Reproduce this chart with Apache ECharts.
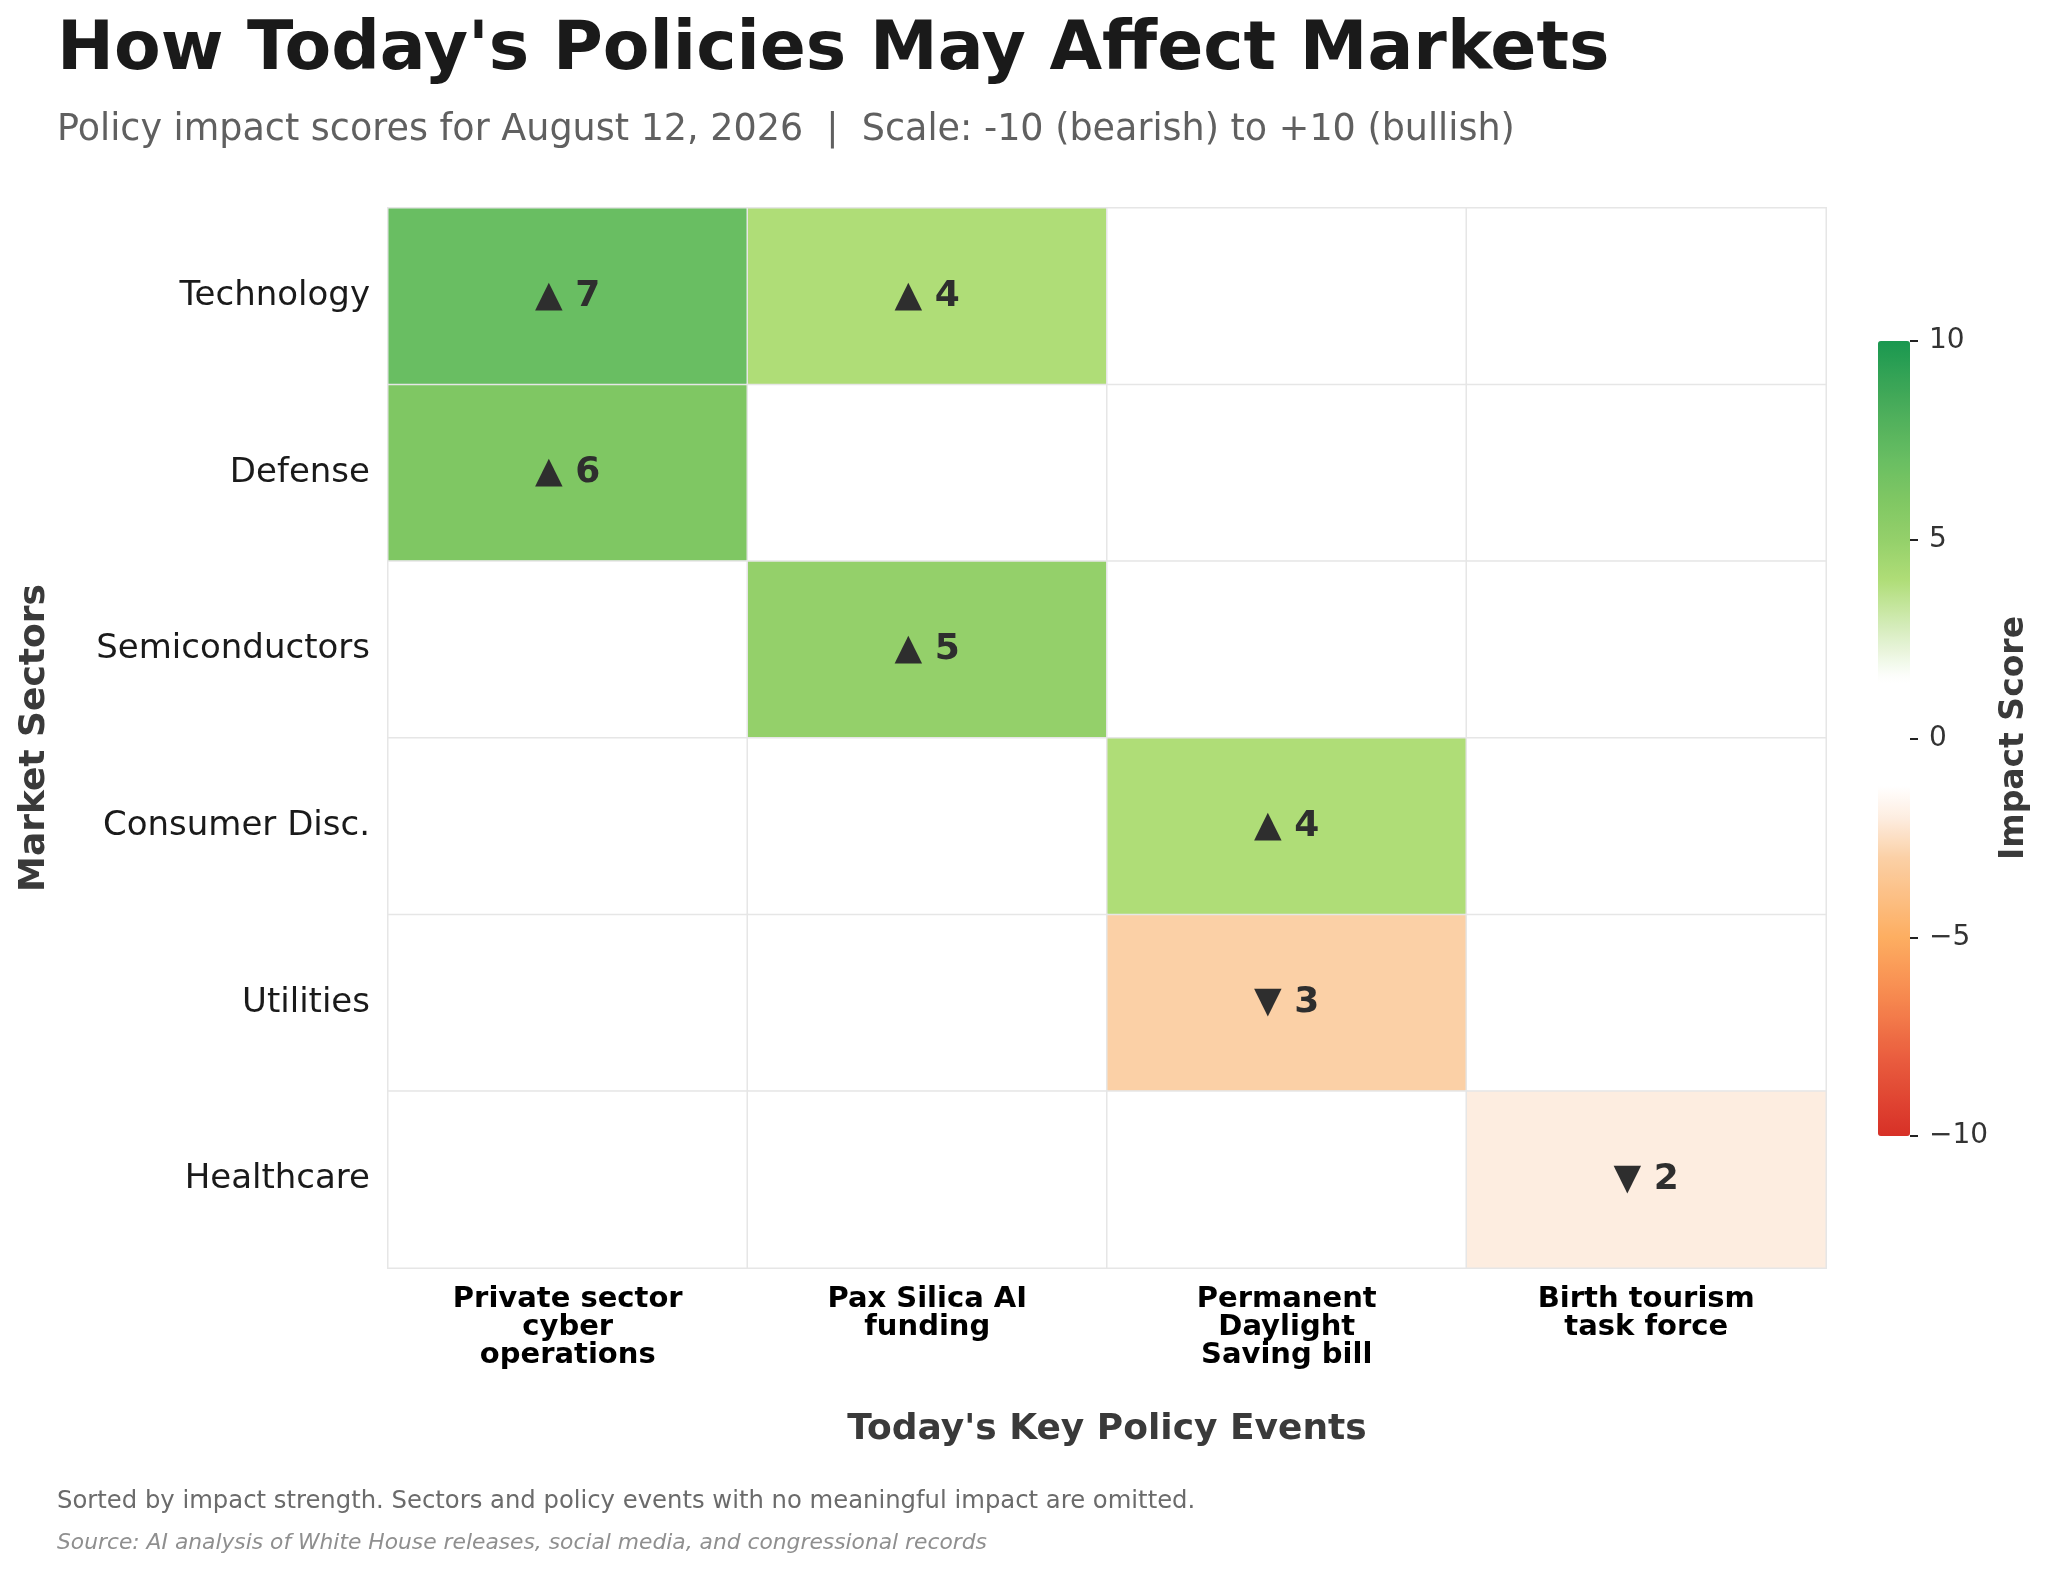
<!DOCTYPE html>
<html>
<head>
<meta charset="utf-8">
<script src="https://cdn.jsdelivr.net/npm/echarts@6/dist/echarts.min.js"></script>
<style>
  html, body { margin: 0; padding: 0; background: #fff; }
  #chart { width: 2048px; height: 1570px; }
</style>
</head>
<body>
<div id="chart"></div>
<script>
// sectors top to bottom, policy events left to right
const sectors = ['Technology', 'Defense', 'Semiconductors', 'Consumer Disc.', 'Utilities', 'Healthcare']
const events = ['Private sector\ncyber\noperations', 'Pax Silica AI\nfunding', 'Permanent\nDaylight\nSaving bill', 'Birth tourism\ntask force']

// impact score per sector (rows) and event (columns), 0 = no impact
const technologyScores = [7, 4, 0, 0]
const defenseScores = [6, 0, 0, 0]
const semiconductorScores = [0, 5, 0, 0]
const consumerScores = [0, 0, 4, 0]
const utilitiesScores = [0, 0, -3, 0]
const healthcareScores = [0, 0, 0, -2]

const colorbarTicks = [-10, -5, 0, 5, 10]

const scoreRows = [technologyScores, defenseScores, semiconductorScores, consumerScores, utilitiesScores, healthcareScores]

const cells = []
for (let r = 0; r < scoreRows.length; r++) {
	for (let c = 0; c < events.length; c++) {
		cells.push([c, r, scoreRows[r][c]])
	}
}

// colour ramp: red -> orange -> white -> green
const rampStops = [
	[-10, '#d73027'], [-8, '#ea5e3f'], [-6.5, '#f7894f'], [-5, '#fdae61'],
	[-3, '#fbd0a6'], [-2, '#fdede0'], [-1.2, '#ffffff'], [1.5, '#ffffff'],
	[2.5, '#dff0cc'], [4, '#afdd77'], [5, '#94d06a'], [6, '#7fc763'],
	[7, '#69be62'], [8.5, '#45aa59'], [10, '#1a9850']
]
function hexToRgb(h) {
	return [parseInt(h.slice(1, 3), 16), parseInt(h.slice(3, 5), 16), parseInt(h.slice(5, 7), 16)]
}
function rampAt(v) {
	for (let i = 0; i < rampStops.length - 1; i++) {
		const a = rampStops[i], b = rampStops[i + 1]
		if (v >= a[0] && v <= b[0]) {
			const t = (v - a[0]) / (b[0] - a[0])
			const ca = hexToRgb(a[1]), cb = hexToRgb(b[1])
			const rgb = ca.map((x, k) => Math.round(x + (cb[k] - x) * t))
			return 'rgb(' + rgb.join(',') + ')'
		}
	}
	return rampStops[rampStops.length - 1][1]
}
const rampColors = []
for (let i = 0; i <= 200; i++) rampColors.push(rampAt(-10 + i * 0.1))

const font = 'DejaVu Sans'

var myChart = echarts.init(document.getElementById('chart'))
var option = {
	backgroundColor: '#fff',
	textStyle: { fontFamily: font },
	animation: false,
	grid: [
		{ left: 388, top: 208, width: 1438, height: 1060 },
		{ left: 1878, top: 341, width: 32, height: 795 }
	],
	xAxis: [{
		type: 'category',
		data: events,
		gridIndex: 0,
		axisLine: { show: false },
		axisTick: { show: false },
		splitLine: { show: false },
		axisLabel: {
			fontFamily: font,
			fontSize: 29,
			fontWeight: 'bold',
			color: '#000',
			lineHeight: 28,
			margin: 17,
			interval: 0
		}
	}, {
		type: 'value',
		gridIndex: 1,
		show: false
	}],
	yAxis: [{
		type: 'category',
		data: sectors,
		inverse: true,
		gridIndex: 0,
		axisLine: { show: false },
		axisTick: { show: false },
		splitLine: { show: false },
		axisLabel: {
			fontFamily: font,
			fontSize: 34,
			color: '#1a1a1a',
			margin: 18,
			padding: [8, 0, 0, 0]
		}
	}, {
		type: 'value',
		gridIndex: 1,
		position: 'right',
		min: -10,
		max: 10,
		interval: 5,
		axisLine: { show: true, onZero: false, lineStyle: { color: 'rgba(0,0,0,0)' } },
		splitLine: { show: false },
		axisTick: { show: true, inside: false, length: 8, lineStyle: { color: '#222', width: 2 } },
		axisLabel: {
			fontFamily: font,
			fontSize: 28,
			color: '#333',
			margin: 19,
			formatter: function(v) {
				return colorbarTicks.indexOf(v) >= 0 ? String(v).replace('-', '\u2212') : ''
			}
		}
	}],
	visualMap: {
		type: 'continuous',
		min: -10,
		max: 10,
		seriesIndex: 0,
		calculable: false,
		hoverLink: false,
		left: 1878,
		top: 341,
		itemWidth: 32,
		itemHeight: 795,
		padding: 0,
		text: null,
		showLabel: false,
		inRange: { color: rampColors }
	},
	series: [{
		type: 'heatmap',
		xAxisIndex: 0,
		yAxisIndex: 0,
		data: cells,
		itemStyle: { borderColor: '#e6e6e6', borderWidth: 1.5 },
		emphasis: { disabled: true },
		label: {
			show: true,
			fontFamily: font,
			fontSize: 36,
			fontWeight: 'bold',
			color: '#2e2e2e',
			padding: [2, 0, 0, 0],
			formatter: function(p) {
				const v = p.value[2]
				if (v > 0) return '\u25B2 ' + v
				if (v < 0) return '\u25BC ' + Math.abs(v)
				return ''
			}
		}
	}],
	graphic: [
		{
			type: 'text', left: 57, top: 17,
			style: { text: "How Today's Policies May Affect Markets", font: 'bold 68px "DejaVu Sans"', fill: '#1a1a1a' }
		},
		{
			type: 'text', left: 57, top: 112,
			style: { text: 'Policy impact scores for August 12, 2026  |  Scale: -10 (bearish) to +10 (bullish)', font: '36.5px "DejaVu Sans"', fill: '#606060' }
		},
		{
			type: 'text', x: 1107, y: 1430,
			style: { text: "Today's Key Policy Events", font: 'bold 36px "DejaVu Sans"', fill: '#3a3a3a', align: 'center', verticalAlign: 'middle' }
		},
		{
			type: 'text', x: 35, y: 738, rotation: Math.PI / 2,
			style: { text: 'Market Sectors', font: 'bold 36px "DejaVu Sans"', fill: '#3a3a3a', align: 'center', verticalAlign: 'middle' }
		},
		{
			type: 'text', x: 2014, y: 738, rotation: Math.PI / 2,
			style: { text: 'Impact Score', font: 'bold 33px "DejaVu Sans"', fill: '#3a3a3a', align: 'center', verticalAlign: 'middle' }
		},
		{
			type: 'text', x: 57, y: 1502,
			style: { text: 'Sorted by impact strength. Sectors and policy events with no meaningful impact are omitted.', font: '24.3px "DejaVu Sans"', fill: '#6b6b6b', verticalAlign: 'middle' }
		},
		{
			type: 'text', x: 57, y: 1543,
			style: { text: 'Source: AI analysis of White House releases, social media, and congressional records', font: 'italic 21.8px "DejaVu Sans"', fill: '#8f8f8f', verticalAlign: 'middle' }
		}
	]
}
myChart.setOption(option)
</script>
</body>
</html>
